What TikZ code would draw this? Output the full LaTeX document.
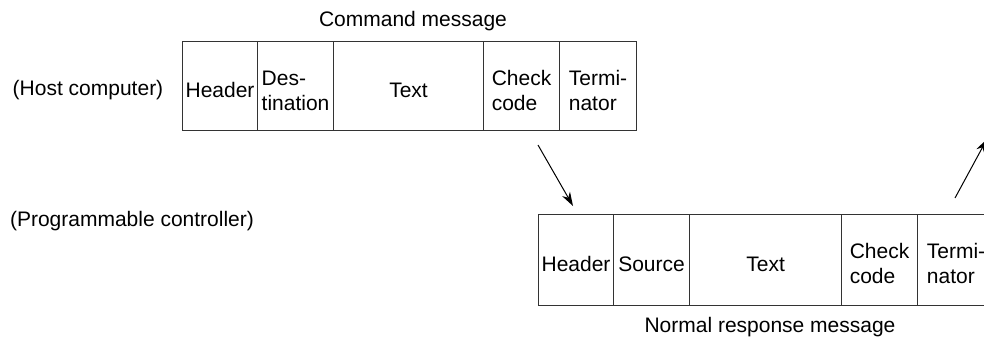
\documentclass[tikz,border=0pt]{standalone}
\usepackage{fontspec}
\setmainfont{Liberation Sans}
\usetikzlibrary{arrows.meta}
\begin{document}
\begin{tikzpicture}[x=1pt,y=-1pt,
  every node/.style={font=\fontsize{21}{25}\selectfont},
  cellA/.style={draw=black!80, line width=1.1pt, minimum height=89pt, inner sep=0pt, anchor=north west},
  cellB/.style={draw=black!80, line width=1.1pt, minimum height=91pt, inner sep=0pt, anchor=north west},
  txt/.style={inner sep=0pt, align=left},
  arr/.style={line width=1pt, -{Stealth[length=14pt,width=9pt]}}]
\useasboundingbox (0,0) rectangle (984,341);
\clip (0,0) rectangle (984,341);
% labels
\node (cmd) at (413,21) {Command message};
\node (resp) at (770,327) {Normal response message};
\node (host) at (88,90) {(Host computer)};
\node (plc) at (132,221) {(Programmable controller)};
% top message
\node[cellA, minimum width=75pt] (t1) at (182,41) {};
\node[cellA, minimum width=76pt] (t2) at (257,41) {};
\node[cellA, minimum width=150pt] (t3) at (333,41) {};
\node[cellA, minimum width=76pt] (t4) at (483,41) {};
\node[cellA, minimum width=77pt] (t5) at (559,41) {};
\node[txt] (t1l) at ([yshift=-4pt]t1.center) {Header};
\node[txt] (t2l) at ([yshift=-5pt]t2.center) {Des-\\tination};
\node[txt] (t3l) at ([yshift=-4pt]t3.center) {Text};
\node[txt] (t4l) at ([yshift=-4pt]t4.center) {Check\\code};
\node[txt] (t5l) at ([yshift=-4pt]t5.center) {Termi-\\nator};
% bottom message
\node[cellB, minimum width=75pt] (b1) at (538,214) {};
\node[cellB, minimum width=76pt] (b2) at (613,214) {};
\node[cellB, minimum width=152pt] (b3) at (689,214) {};
\node[cellB, minimum width=76pt] (b4) at (841,214) {};
\node[cellB, minimum width=77pt] (b5) at (917,214) {};
\node[txt] (b1l) at ([yshift=-4pt]b1.center) {Header};
\node[txt] (b2l) at ([yshift=-4pt]b2.center) {Source};
\node[txt] (b3l) at ([yshift=-4pt]b3.center) {Text};
\node[txt] (b4l) at ([yshift=-3pt]b4.center) {Check\\code};
\node[txt] (b5l) at ([yshift=-3pt]b5.center) {Termi-\\nator};
% arrows
\coordinate (a1s) at (538,145);
\coordinate (a1e) at (573,206);
\coordinate (a2s) at (955,198);
\coordinate (a2e) at (987,139);
\draw[arr] (a1s) -- (a1e);
\draw[arr] (a2s) -- (a2e);
\end{tikzpicture}
\end{document}
